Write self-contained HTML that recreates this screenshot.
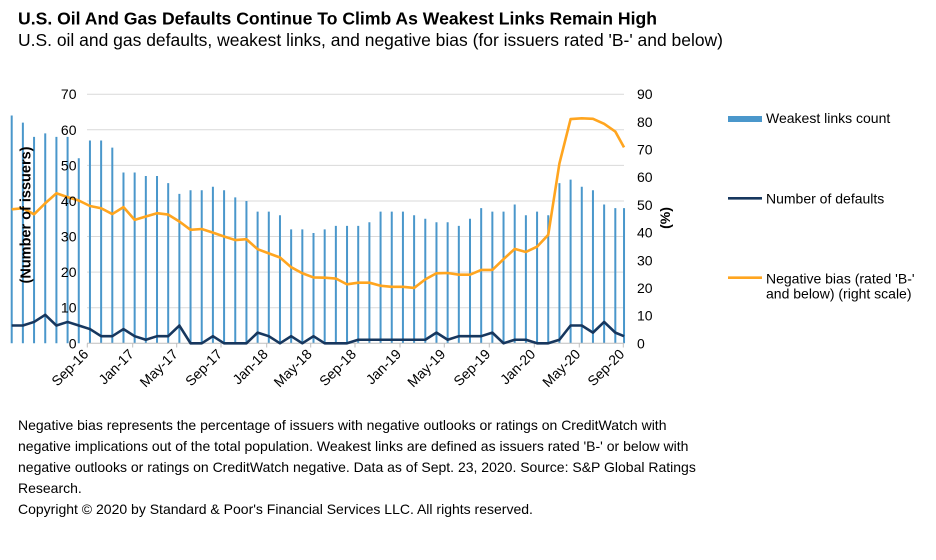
<!DOCTYPE html>
<html>
<head>
<meta charset="utf-8">
<style>
  html,body{margin:0;padding:0;background:#fff;}
  svg{display:block;}
  text{font-family:"Liberation Sans",Arial,sans-serif;fill:#000;}
</style>
</head>
<body>
<svg width="936" height="560" viewBox="0 0 936 560" xmlns="http://www.w3.org/2000/svg">
  <!-- Title -->
  <text x="18" y="24.5" font-size="17.5" font-weight="bold" textLength="639" lengthAdjust="spacingAndGlyphs">U.S. Oil And Gas Defaults Continue To Climb As Weakest Links Remain High</text>
  <text x="18" y="46" font-size="17.5" textLength="705" lengthAdjust="spacingAndGlyphs">U.S. oil and gas defaults, weakest links, and negative bias (for issuers rated 'B-' and below)</text>

  <!-- Gridlines -->
  <g stroke="#d9d9d9" stroke-width="1">
    <line x1="87" y1="307.7" x2="624" y2="307.7"/>
    <line x1="87" y1="272.1" x2="624" y2="272.1"/>
    <line x1="87" y1="236.5" x2="624" y2="236.5"/>
    <line x1="87" y1="201.0" x2="624" y2="201.0"/>
    <line x1="87" y1="165.4" x2="624" y2="165.4"/>
    <line x1="87" y1="129.8" x2="624" y2="129.8"/>
    <line x1="87" y1="94.2" x2="624" y2="94.2"/>
  </g>

  <!-- Bars (weakest links) -->
  <g transform="translate(11.7 343.3) scale(11.178 -3.5586)">
    <path fill="none" stroke="#4a97cb" stroke-width="2" vector-effect="non-scaling-stroke"
      d="M0 0V64M1 0V62M2 0V58M3 0V59M4 0V58M5 0V58M6 0V52M7 0V57M8 0V57M9 0V55M10 0V48M11 0V48M12 0V47M13 0V47M14 0V45M15 0V42M16 0V43M17 0V43M18 0V44M19 0V43M20 0V41M21 0V40M22 0V37M23 0V37M24 0V36M25 0V32M26 0V32M27 0V31M28 0V32M29 0V33M30 0V33M31 0V33M32 0V34M33 0V37M34 0V37M35 0V37M36 0V36M37 0V35M38 0V34M39 0V34M40 0V33M41 0V35M42 0V38M43 0V37M44 0V37M45 0V39M46 0V36M47 0V37M48 0V36M49 0V45M50 0V46M51 0V44M52 0V43M53 0V39M54 0V38M54.78 0V38"/>
  </g>

  <!-- X axis -->
  <g stroke="#bfbfbf" stroke-width="1">
    <line x1="87" y1="343.3" x2="624" y2="343.3"/>
    <line x1="87.3" y1="343.3" x2="87.3" y2="347.5"/>
    <line x1="132.7" y1="343.3" x2="132.7" y2="347.5"/>
    <line x1="176.7" y1="343.3" x2="176.7" y2="347.5"/>
    <line x1="221" y1="343.3" x2="221" y2="347.5"/>
    <line x1="266.7" y1="343.3" x2="266.7" y2="347.5"/>
    <line x1="310.7" y1="343.3" x2="310.7" y2="347.5"/>
    <line x1="355" y1="343.3" x2="355" y2="347.5"/>
    <line x1="400" y1="343.3" x2="400" y2="347.5"/>
    <line x1="444.3" y1="343.3" x2="444.3" y2="347.5"/>
    <line x1="489.3" y1="343.3" x2="489.3" y2="347.5"/>
    <line x1="534.3" y1="343.3" x2="534.3" y2="347.5"/>
    <line x1="579.3" y1="343.3" x2="579.3" y2="347.5"/>
    <line x1="623.3" y1="343.3" x2="623.3" y2="347.5"/>
  </g>

  <!-- Number of defaults -->
  <g transform="translate(11.7 343.3) scale(11.178 -3.5586)">
    <polyline fill="none" stroke="#17375e" stroke-width="2.6" stroke-linejoin="round" vector-effect="non-scaling-stroke"
      points="0,5 1,5 2,6 3,8 4,5 5,6 6,5 7,4 8,2 9,2 10,4 11,2 12,1 13,2 14,2 15,5 16,0 17,0 18,2 19,0 20,0 21,0 22,3 23,2 24,0 25,2 26,0 27,2 28,0 29,0 30,0 31,1 32,1 33,1 34,1 35,1 36,1 37,1 38,3 39,1 40,2 41,2 42,2 43,3 44,0 45,1 46,1 47,0 48,0 49,1 50,5 51,5 52,3 53,6 54,3 54.78,2"/>
  </g>

  <!-- Negative bias -->
  <g transform="translate(11.7 343.3) scale(11.178 -2.7678)">
    <polyline fill="none" stroke="#ffa51f" stroke-width="2.6" stroke-linejoin="round" vector-effect="non-scaling-stroke"
      points="0,48.4 1,48.8 2,46.6 3,50.6 4,54.2 5,52.8 6,51.6 7,49.6 8,48.8 9,46.7 10,49.2 11,44.6 12,45.8 13,47 14,46.5 15,44 16,41 17,41.3 18,40 19,38.6 20,37.3 21,37.6 22,34 23,32.5 24,31 25,27.5 26,25.3 27,23.8 28,23.7 29,23.4 30,21.3 31,21.9 32,21.9 33,20.8 34,20.4 35,20.4 36,20 37,23.1 38,25.3 39,25.4 40,24.8 41,24.8 42,26.5 43,26.5 44,30.4 45,34.1 46,33 47,34.9 48,39.2 49,65 50,81 51,81.3 52,81.1 53,79.3 54,76.5 54.78,70.8"/>
  </g>

  <!-- Left axis labels -->
  <g font-size="14" text-anchor="end">
    <text x="76.5" y="348.3">0</text>
    <text x="76.5" y="312.7">10</text>
    <text x="76.5" y="277.1">20</text>
    <text x="76.5" y="241.5">30</text>
    <text x="76.5" y="206.0">40</text>
    <text x="76.5" y="170.4">50</text>
    <text x="76.5" y="134.8">60</text>
    <text x="76.5" y="99.2">70</text>
  </g>
  <text transform="translate(30.5 215) rotate(-90)" font-size="14.5" font-weight="bold" text-anchor="middle">(Number of issuers)</text>

  <!-- Right axis labels -->
  <g font-size="14" text-anchor="start">
    <text x="637" y="348.3">0</text>
    <text x="637" y="320.6">10</text>
    <text x="637" y="292.9">20</text>
    <text x="637" y="265.3">30</text>
    <text x="637" y="237.6">40</text>
    <text x="637" y="209.9">50</text>
    <text x="637" y="182.2">60</text>
    <text x="637" y="154.5">70</text>
    <text x="637" y="126.9">80</text>
    <text x="637" y="99.2">90</text>
  </g>
  <text transform="translate(670 218) rotate(-90)" font-size="14" font-weight="bold" text-anchor="middle">(%)</text>

  <!-- X axis labels -->
  <g font-size="14" text-anchor="end">
    <text transform="translate(89.3 355) rotate(-45)">Sep-16</text>
    <text transform="translate(134.7 355) rotate(-45)">Jan-17</text>
    <text transform="translate(178.7 355) rotate(-45)">May-17</text>
    <text transform="translate(223 355) rotate(-45)">Sep-17</text>
    <text transform="translate(268.7 355) rotate(-45)">Jan-18</text>
    <text transform="translate(312.7 355) rotate(-45)">May-18</text>
    <text transform="translate(357 355) rotate(-45)">Sep-18</text>
    <text transform="translate(402 355) rotate(-45)">Jan-19</text>
    <text transform="translate(446.3 355) rotate(-45)">May-19</text>
    <text transform="translate(491.3 355) rotate(-45)">Sep-19</text>
    <text transform="translate(536.3 355) rotate(-45)">Jan-20</text>
    <text transform="translate(581.3 355) rotate(-45)">May-20</text>
    <text transform="translate(625.3 355) rotate(-45)">Sep-20</text>
  </g>

  <!-- Legend -->
  <rect x="728" y="116" width="34" height="6" fill="#4a97cb"/>
  <text x="766" y="123" font-size="14">Weakest links count</text>
  <line x1="728" y1="198.3" x2="762" y2="198.3" stroke="#17375e" stroke-width="2.6"/>
  <text x="766" y="203.3" font-size="14">Number of defaults</text>
  <line x1="728" y1="277.7" x2="762" y2="277.7" stroke="#ffa51f" stroke-width="2.6"/>
  <text x="766" y="283.3" font-size="14">Negative bias (rated 'B-'</text>
  <text x="766" y="298.3" font-size="14">and below) (right scale)</text>

  <!-- Footer -->
  <g font-size="14">
    <text x="18" y="430">Negative bias represents the percentage of issuers with negative outlooks or ratings on CreditWatch with</text>
    <text x="18" y="451">negative implications out of the total population. Weakest links are defined as issuers rated 'B-' or below with</text>
    <text x="18" y="472">negative outlooks or ratings on CreditWatch negative. Data as of Sept. 23, 2020. Source: S&amp;P Global Ratings</text>
    <text x="18" y="493">Research.</text>
    <text x="18" y="514">Copyright © 2020 by Standard &amp; Poor's Financial Services LLC. All rights reserved.</text>
  </g>
</svg>
</body>
</html>
